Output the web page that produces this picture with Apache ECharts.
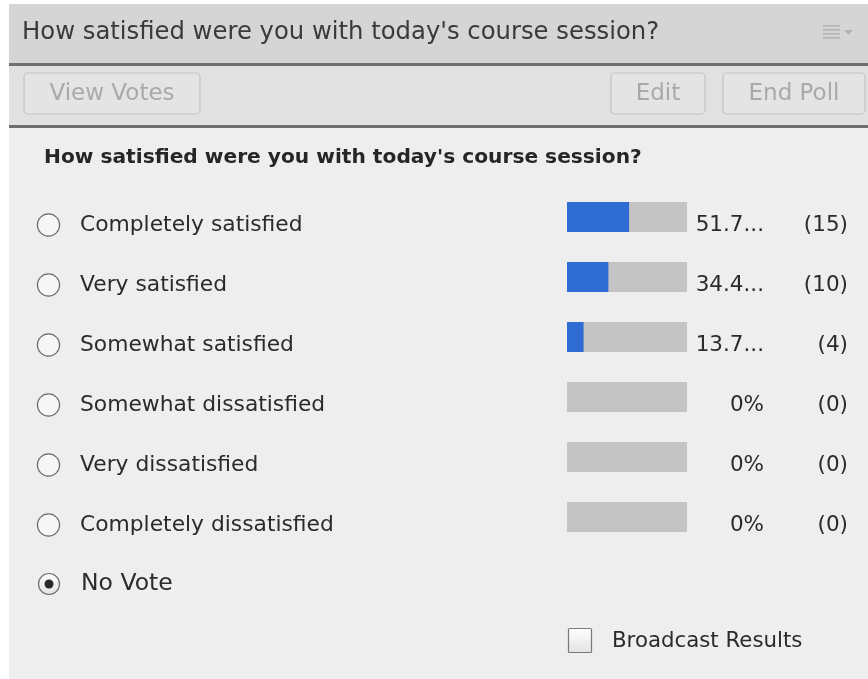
<!DOCTYPE html>
<html>
<head>
<meta charset="utf-8">
<script src="https://cdn.jsdelivr.net/npm/echarts@6/dist/echarts.min.js"></script>
<style>
  html, body { margin: 0; padding: 0; background: #fff; }
  #chart { width: 868px; height: 679px; }
</style>
</head>
<body>
<div id="chart"></div>
<script>
// poll question + answers
const question = "How satisfied were you with today's course session?"
const answers = ['Completely satisfied', 'Very satisfied', 'Somewhat satisfied', 'Somewhat dissatisfied', 'Very dissatisfied', 'Completely dissatisfied']
const votes = [15, 10, 4, 0, 0, 0]

const total = votes.reduce((a, b) => a + b, 0)
const percents = votes.map(v => v / total * 100)
// the panel column is narrow, long numbers get cut off
const pctLabel = p => {
  if (p === 0) return '0%'
  const s = p.toFixed(2) + '%'
  return s.length > 4 ? s.slice(0, 4) + '...' : s
}

const font = 'DejaVu Sans'
const chart = echarts.init(document.getElementById('chart'))

const radioFill = new echarts.graphic.LinearGradient(0, 0, 0, 1, [{ offset: 0, color: '#ffffff' }, { offset: 1, color: '#e2e2e2' }])

const btn = (x, w, label) => ([
  { type: 'rect', shape: { x: x, y: 73, width: w, height: 41, r: 4 },
    style: { fill: '#e4e4e4', stroke: '#c4c4c4', lineWidth: 1.2 }, z: 1 },
  { type: 'text', x: x + w / 2, y: 94, z: 2,
    style: { text: label, fontFamily: font, fontSize: 23, fill: '#a9a9a9', align: 'center', verticalAlign: 'middle' } }
])

chart.setOption({
  animation: false,
  graphic: [
    // panel chrome
    { type: 'rect', shape: { x: 9, y: 4, width: 859, height: 675 }, style: { fill: '#eeeeee' }, z: 0 },
    { type: 'rect', shape: { x: 9, y: 4, width: 859, height: 60 }, style: { fill: '#d5d5d5' }, z: 0 },
    { type: 'rect', shape: { x: 9, y: 66, width: 859, height: 59 }, style: { fill: '#e1e1e1' }, z: 0 },
    { type: 'rect', shape: { x: 9, y: 63, width: 859, height: 3 }, style: { fill: '#6e6e6e' }, z: 1 },
    { type: 'rect', shape: { x: 9, y: 125, width: 859, height: 3 }, style: { fill: '#6e6e6e' }, z: 1 },
    { type: 'text', x: 22, y: 33, z: 2,
      style: { text: question, fontFamily: font, fontSize: 24.3, fill: '#3a3a3a', verticalAlign: 'middle' } },
    // menu icon
    ...[26, 30, 34, 38].map(y => ({ type: 'rect', shape: { x: 823, y: y - 1, width: 17, height: 1.6 }, style: { fill: '#b4b4b4' }, z: 2 })),
    { type: 'polygon', shape: { points: [[844, 30], [853, 30], [848.5, 35]] }, style: { fill: '#b4b4b4' }, z: 2 },
    ...btn(24, 176, 'View Votes'),
    ...btn(611, 94, 'Edit'),
    ...btn(723, 142, 'End Poll'),
    { type: 'text', x: 44, y: 158, z: 2,
      style: { text: question, fontFamily: font, fontWeight: 'bold', fontSize: 20.2, fill: '#262626', verticalAlign: 'middle' } },
    // no vote (selected)
    { type: 'circle', shape: { cx: 49, cy: 584, r: 10.5 }, style: { fill: radioFill, stroke: '#6c6c6c', lineWidth: 1.2 }, z: 2 },
    { type: 'circle', shape: { cx: 49, cy: 584, r: 4.5 }, style: { fill: '#2a2a2a' }, z: 3 },
    { type: 'text', x: 81, y: 584, z: 2,
      style: { text: 'No Vote', fontFamily: font, fontSize: 23.5, fill: '#2b2b2b', verticalAlign: 'middle' } },
    // broadcast checkbox
    { type: 'rect', shape: { x: 568.5, y: 628.5, width: 23, height: 24, r: 1 }, style: { fill: radioFill, stroke: '#7a7a7a', lineWidth: 1.2 }, z: 2 },
    { type: 'text', x: 612, y: 641, z: 2,
      style: { text: 'Broadcast Results', fontFamily: font, fontSize: 21.3, fill: '#2b2b2b', verticalAlign: 'middle' } }
  ],
  grid: { left: 567, top: 187, width: 120, height: 360, outerBoundsMode: 'none' },
  xAxis: { type: 'value', min: 0, max: 100, show: false },
  yAxis: [
    {
      type: 'category', data: answers, inverse: true, position: 'left',
      axisLine: { show: false }, axisTick: { show: false }, splitLine: { show: false },
      axisLabel: {
        align: 'left', margin: 529, padding: [16, 0, 0, 0],
        formatter: v => '{r|}{t|' + v + '}',
        rich: {
          r: { width: 21, height: 21, borderRadius: 11, borderWidth: 1.2, borderColor: '#6c6c6c', backgroundColor: '#f6f6f6' },
          t: { fontFamily: font, fontSize: 21.8, color: '#2b2b2b', padding: [0, 0, 0, 21] }
        }
      }
    },
    {
      type: 'category', data: answers, inverse: true, position: 'right',
      axisLine: { show: false }, axisTick: { show: false }, splitLine: { show: false },
      axisLabel: {
        align: 'left', margin: 1, padding: [16, 0, 0, 0],
        formatter: (v, i) => '{p|' + pctLabel(percents[i]) + '}{c|(' + votes[i] + ')}',
        rich: {
          p: { fontFamily: font, fontSize: 21.5, color: '#2b2b2b', width: 76, align: 'right' },
          c: { fontFamily: font, fontSize: 21.5, color: '#2b2b2b', width: 84, align: 'right' }
        }
      }
    }
  ],
  series: [{
    type: 'bar', data: percents, barWidth: 30, yAxisIndex: 0,
    itemStyle: { color: '#2e6bd2' },
    showBackground: true,
    backgroundStyle: { color: '#c4c4c4' },
    silent: true
  }]
})
</script>
</body>
</html>
